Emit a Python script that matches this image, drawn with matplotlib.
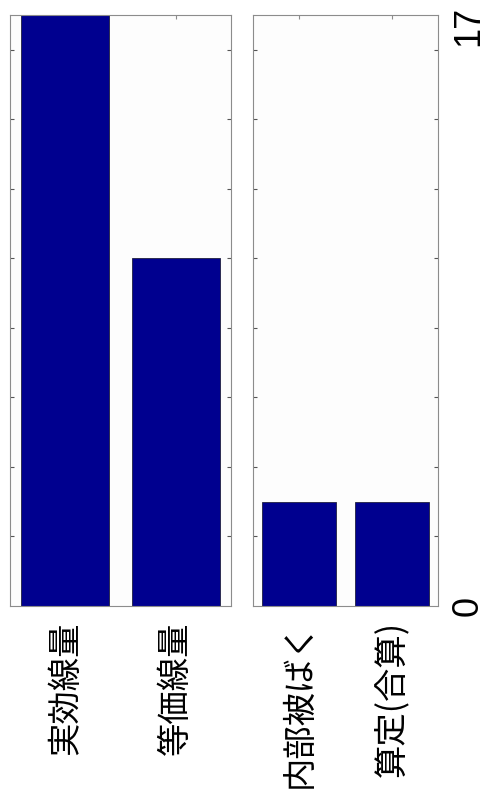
import numpy as np
import matplotlib
matplotlib.use("Agg")
import matplotlib.pyplot as plt

plt.rcParams["font.family"] = ["Noto Sans CJK JP", "DejaVu Sans"]

# 線量の比較 (値は図から読み取り)
labels_a = ["実効線量", "等価線量"]
values_a = [17, 10]
labels_b = ["内部被ばく", "算定(合算)"]
values_b = [3, 3]
y_max = 17
minor_ticks = np.arange(2, 17, 2)

BAR = "#00008f"
EDGE = "#8c8c8c"

fig = plt.figure(figsize=(4.86, 7.90), dpi=100)
ax1 = fig.add_axes([10 / 486, 184 / 790, 221 / 486, 591 / 790])
ax2 = fig.add_axes([253 / 486, 184 / 790, 185 / 486, 591 / 790])

for ax, labs, vals in [(ax1, labels_a, values_a), (ax2, labels_b, values_b)]:
    x = np.arange(1, len(vals) + 1)
    ax.bar(x, vals, width=0.8, color=BAR, edgecolor="#202040", linewidth=0.6, zorder=2)
    ax.set_xlim(0.5, len(vals) + 0.5)
    ax.set_ylim(0, y_max)
    ax.set_facecolor("#fdfdfd")
    for s in ax.spines.values():
        s.set_color(EDGE)
        s.set_linewidth(0.8)
    ax.set_xticks(x)
    ax.set_xticklabels(labs, rotation=90, fontsize=24, va="top")
    ax.tick_params(axis="x", direction="in", top=True, bottom=True,
                   length=3, color=EDGE, pad=11)
    ax.set_yticks(minor_ticks)
    ax.set_yticklabels([])
    ax.tick_params(axis="y", direction="in", left=True, right=True,
                   length=3, color="#555555")

# 右端の目盛り値
ax2.text(1.165, 0, "0", transform=ax2.get_yaxis_transform(), rotation=90,
         ha="center", va="center", fontsize=26, family=["Liberation Sans", "DejaVu Sans"])
ax2.text(1.165, 16.7, "17", transform=ax2.get_yaxis_transform(), rotation=90,
         ha="center", va="center", fontsize=26, family=["Liberation Sans", "DejaVu Sans"])

fig.savefig("out.png", dpi=100)
